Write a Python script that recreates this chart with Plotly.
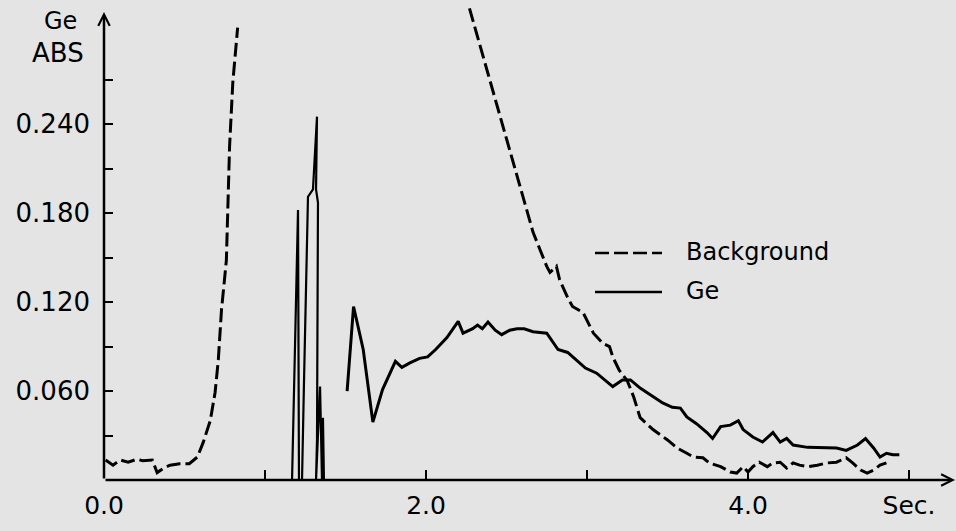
import plotly.graph_objects as go

# ---- data ----
bg1_x = [0.01, 0.056, 0.10, 0.15, 0.205, 0.24, 0.30, 0.33, 0.37, 0.41, 0.47, 0.53, 0.58, 0.615, 0.66, 0.69, 0.71, 0.73, 0.76, 0.78, 0.80, 0.83]
bg1_y = [0.0135, 0.010, 0.0135, 0.012, 0.014, 0.013, 0.0135, 0.005, 0.008, 0.010, 0.011, 0.011, 0.0155, 0.025, 0.040, 0.059, 0.081, 0.115, 0.148, 0.225, 0.268, 0.305]

bg2_x = [2.27, 2.46, 2.58, 2.665, 2.75, 2.77, 2.81, 2.83, 2.88, 2.91, 2.975, 3.0, 3.04, 3.10, 3.14, 3.16, 3.20, 3.25, 3.29, 3.33, 3.41, 3.50, 3.56, 3.62, 3.66, 3.72, 3.76, 3.83, 3.89, 3.93, 3.97, 4.0, 4.03, 4.07, 4.12, 4.155, 4.20, 4.24, 4.28, 4.32, 4.37, 4.43, 4.49, 4.55, 4.61, 4.65, 4.70, 4.74, 4.78, 4.82, 4.86]
bg2_y = [0.318, 0.245, 0.198, 0.167, 0.144, 0.140, 0.144, 0.135, 0.123, 0.117, 0.113, 0.108, 0.099, 0.092, 0.090, 0.083, 0.074, 0.067, 0.056, 0.042, 0.034, 0.027, 0.0216, 0.018, 0.0155, 0.015, 0.0115, 0.009, 0.0054, 0.0047, 0.009, 0.0054, 0.009, 0.012, 0.009, 0.0115, 0.012, 0.008, 0.0115, 0.010, 0.009, 0.010, 0.0115, 0.012, 0.015, 0.0115, 0.0067, 0.0047, 0.0067, 0.010, 0.0115]

ge_spike_x = [1.168, 1.205, 1.211, 1.23, 1.242, 1.267, 1.298, 1.323, 1.317, 1.329, 1.323, 1.317, 1.342, 1.354, 1.36, 1.366]
ge_spike_y = [0, 0.182, 0, 0, 0.065, 0.191, 0.196, 0.245, 0.196, 0.187, 0.027, 0, 0.063, 0, 0.042, 0]

ge_x = [1.51, 1.55, 1.61, 1.67, 1.73, 1.81, 1.85, 1.90, 1.96, 2.01, 2.06, 2.13, 2.20, 2.23, 2.29, 2.32, 2.35, 2.385, 2.43, 2.47, 2.52, 2.565, 2.61, 2.665, 2.75, 2.78, 2.82, 2.88, 2.94, 2.99, 3.06, 3.11, 3.16, 3.22, 3.27, 3.33, 3.41, 3.47, 3.53, 3.58, 3.62, 3.68, 3.745, 3.78, 3.83, 3.89, 3.94, 3.97, 4.03, 4.09, 4.155, 4.20, 4.24, 4.28, 4.37, 4.45, 4.55, 4.61, 4.68, 4.73, 4.78, 4.82, 4.86, 4.90, 4.94]
ge_y = [0.060, 0.117, 0.088, 0.039, 0.061, 0.080, 0.076, 0.079, 0.082, 0.083, 0.088, 0.096, 0.107, 0.099, 0.102, 0.1045, 0.102, 0.1065, 0.101, 0.098, 0.101, 0.102, 0.102, 0.100, 0.099, 0.094, 0.088, 0.086, 0.080, 0.0755, 0.072, 0.0675, 0.063, 0.0675, 0.0675, 0.062, 0.056, 0.052, 0.049, 0.0485, 0.0425, 0.038, 0.032, 0.028, 0.036, 0.037, 0.040, 0.034, 0.029, 0.0256, 0.032, 0.0256, 0.028, 0.0236, 0.022, 0.0216, 0.0216, 0.020, 0.0236, 0.028, 0.0216, 0.0155, 0.018, 0.017, 0.017]

x_tick_vals = [0, 1, 2, 3, 4, 5]
x_tick_text = ["0.0", "", "2.0", "", "4.0", "Sec."]
y_tick_vals = [0.03, 0.06, 0.09, 0.12, 0.15, 0.18, 0.21, 0.24, 0.27]
y_tick_text = ["", "0.060", "", "0.120", "", "0.180", "", "0.240", ""]

series_names = ["Background", "Ge"]

# ---- layout geometry ----
W, H = 956, 531
ML, MB, MT, MR = 104, 51, 5, 0
PW = W - ML - MR
PH = H - MT - MB
X_MAX = PW / 161.0
Y_MAX = PH / 1483.0
BG = "#e4e4e4"
FONT = "DejaVu Sans"


def px_to_paper(px, py):
    return (px - ML) / PW, (H - MB - py) / PH


fig = go.Figure()
dash = "14px,5px"
fig.add_trace(go.Scatter(x=bg1_x, y=bg1_y, mode="lines", line=dict(color="black", width=3, dash=dash), showlegend=False))
fig.add_trace(go.Scatter(x=bg2_x, y=bg2_y, mode="lines", line=dict(color="black", width=3, dash=dash), showlegend=False))
fig.add_trace(go.Scatter(x=ge_spike_x, y=ge_spike_y, mode="lines", line=dict(color="black", width=2.2), showlegend=False))
fig.add_trace(go.Scatter(x=ge_x, y=ge_y, mode="lines", line=dict(color="black", width=3), showlegend=False))

# axes with arrows
fig.add_annotation(x=0, y=0.3156, ax=0, ay=0, xref="x", yref="y", axref="x", ayref="y",
                   text="", showarrow=True, arrowhead=5, arrowsize=0.9, arrowwidth=2.5, arrowcolor="black")
fig.add_annotation(x=5.286, y=0, ax=0, ay=0, xref="x", yref="y", axref="x", ayref="y",
                   text="", showarrow=True, arrowhead=5, arrowsize=0.9, arrowwidth=2.5, arrowcolor="black")

# y label
gx, gy = px_to_paper(60, 21)
fig.add_annotation(x=gx, y=gy, xref="paper", yref="paper", text="Ge", showarrow=False,
                   font=dict(family=FONT, size=24, color="black"), xanchor="center", yanchor="middle")
ax_, ay_ = px_to_paper(58, 53)
fig.add_annotation(x=ax_, y=ay_, xref="paper", yref="paper", text="ABS", showarrow=False,
                   font=dict(family=FONT, size=26, color="black"), xanchor="center", yanchor="middle")

# legend (drawn manually)
for name, dsh, py in [(series_names[0], "dash", 253), (series_names[1], "solid", 292)]:
    x0, yy = px_to_paper(595, py)
    x1, _ = px_to_paper(662, py)
    fig.add_shape(type="line", xref="paper", yref="paper", x0=x0, x1=x1, y0=yy, y1=yy,
                  line=dict(color="black", width=2.5, dash=dash if dsh == "dash" else "solid"))
    tx, ty = px_to_paper(684, py - 1)
    fig.add_annotation(x=tx, y=ty, xref="paper", yref="paper", text=name, showarrow=False,
                       font=dict(family=FONT, size=24, color="black"), xanchor="left", yanchor="middle")

fig.update_layout(
    width=W, height=H,
    margin=dict(l=ML, r=MR, t=MT, b=MB, pad=0),
    paper_bgcolor=BG, plot_bgcolor=BG,
    showlegend=False,
    font=dict(family=FONT, color="black"),
    xaxis=dict(range=[0, X_MAX], showgrid=False, zeroline=False, showline=False,
               tickmode="array", tickvals=x_tick_vals, ticktext=x_tick_text,
               ticks="inside", ticklen=10, tickwidth=2, tickcolor="black",
               tickfont=dict(family=FONT, size=25, color="black"), ticklabelstandoff=8),
    yaxis=dict(range=[0, Y_MAX], showgrid=False, zeroline=False, showline=False,
               tickmode="array", tickvals=y_tick_vals, ticktext=y_tick_text,
               ticks="inside", ticklen=9, tickwidth=2, tickcolor="black",
               tickfont=dict(family=FONT, size=26, color="black"), ticklabelstandoff=13),
)

fig.write_html("out.html")
